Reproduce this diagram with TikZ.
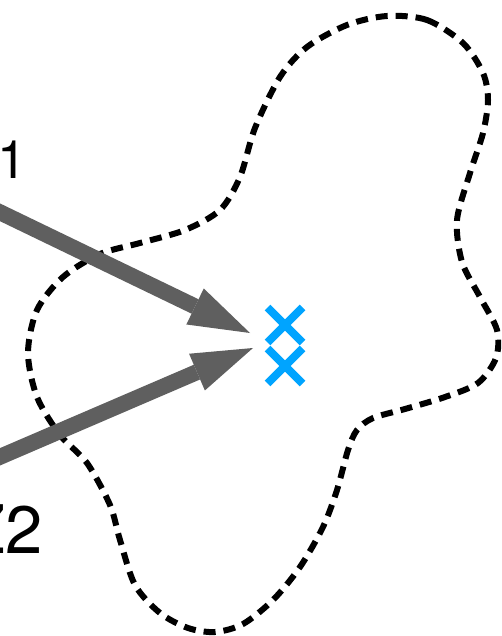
\documentclass[tikz,border=0pt]{standalone}
\usepackage{fontspec}
\newfontfamily\helv{TeX Gyre Heros}
\usetikzlibrary{arrows.meta, shapes.misc}
\usepackage{xcolor}
\definecolor{arrowgray}{RGB}{95, 95, 95}
\definecolor{skyblue}{RGB}{0, 164, 255}

\begin{document}
\begin{tikzpicture}[x=1pt, y=-1pt,
      outline/.style={draw=black, line width=6pt, dash pattern=on 12pt off 8pt},
      arrow/.style={draw=arrowgray, line width=16pt, -{Triangle[length=61pt, width=40pt, line width=0pt]}},
      cross/.style={cross out, draw=skyblue, line width=8pt, minimum size=27pt, inner sep=0pt},
      zname/.style={anchor=base west, inner sep=0pt, font=\helv}
   ]
      % Frame (labels and arrow tails run off the left edge)
      \useasboundingbox (0,0) rectangle (501,636);
      \clip (0,0) rectangle (501,636);

      % Dashed region
      \draw[outline] plot[smooth cycle, tension=0.5] coordinates {
         (387,16) (427,20) (463,43) (483,73) (488,100) (483,133) (470,173)
         (457,220) (462,262) (480,297) (497,330) (496,358) (478,383) (445,397)
         (405,409) (373,418) (357,430) (348,450) (337,490) (323,527) (300,567)
         (273,600) (243,624) (215,632) (188,628) (160,613) (135,585) (120,540)
         (110,505) (87,463) (60,435) (37,397) (28,353) (37,310) (63,277)
         (100,254) (140,243) (185,230) (220,210) (240,177) (255,128) (280,77)
         (307,47) (347,25)};

      % Labels
      \node (zlab1) [zname] at (-35,179) {\fontsize{53}{60}\selectfont Z1};
      \node (zlab2) [zname] at (-36,553) {\fontsize{67}{75}\selectfont Z2};

      % Crosses
      \node (x1) [cross] at (285,325) {};
      \node (x2) [cross] at (285,366) {};

      % Arrow ends
      \coordinate (s1) at (-40,193);
      \coordinate (t1) at (250,333);
      \coordinate (s2) at (-40,474);
      \coordinate (t2) at (253,348);

      \draw[arrow] (s1) -- (t1);
      \draw[arrow] (s2) -- (t2);
   \end{tikzpicture}
\end{document}
